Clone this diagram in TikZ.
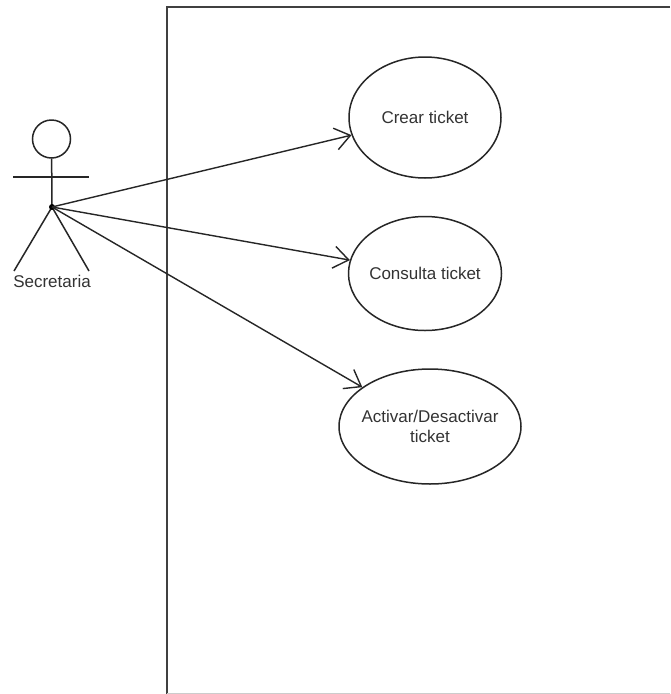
\documentclass[tikz,border=0pt]{standalone}
\usepackage{fontspec}
\setmainfont{Liberation Sans}
\usetikzlibrary{arrows.meta, positioning, shapes.geometric}

\tikzset{
  usecase/.style={ellipse, draw=black!85, line width=1.5pt, align=center, inner sep=-5pt},
  actorline/.style={draw=black!85, line width=1.5pt},
  assoc/.style={draw=black!85, line width=1.4pt, -{Straight Barb[length=15pt,width=22pt,line width=1.4pt]}},
  framelines/.style={draw=black!75, line width=2pt}
}

\begin{document}
\begin{tikzpicture}[x=1pt,y=-1pt,node distance=37pt,font=\fontsize{17}{20}\selectfont,text=black!80]
\useasboundingbox (0,0) rectangle (670,694);
\fill[white] (0,0) rectangle (670,694);

% System boundary
\coordinate (frametr) at (670,7);
\coordinate (frametl) at (167,7);
\coordinate (framebl) at (167,694);
\coordinate (framebr) at (670,693);
\draw[framelines] (frametr) -- (frametl) -- (framebl);
\draw[draw=black!20, line width=1pt] (167,693) -- (framebr);

% Use cases
\node[usecase, minimum width=152pt, minimum height=121pt] (crear) at (425,117.5) {Crear ticket};
\node[usecase, minimum width=153pt, minimum height=114pt, below=of crear] (consulta) {Consulta ticket};
\node[usecase, minimum width=182pt, minimum height=115pt, below=of consulta, xshift=5pt] (activar) {Activar/Desactivar\\ticket};

% Actor
\node[circle, actorline, minimum size=38pt, inner sep=0pt] (head) at (51.5,139) {};
\coordinate (hip) at (52,207);
\coordinate (armleft) at (13,177);
\coordinate (armright) at (89,177);
\coordinate (legleft) at (14,271);
\coordinate (legright) at (89,271);
\node[inner sep=0pt] (secretaria) at (52,281) {Secretaria};
\draw[actorline] (head) -- (hip);
\draw[actorline] (armleft) -- (armright);
\draw[actorline] (legleft) -- (hip) -- (legright);
\fill[black] (hip) circle (3pt);

% Arrows to use cases
\draw[assoc] (hip) -- (crear);
\draw[assoc] (hip) -- (consulta);
\draw[assoc] (hip) -- (activar);
\end{tikzpicture}
\end{document}
